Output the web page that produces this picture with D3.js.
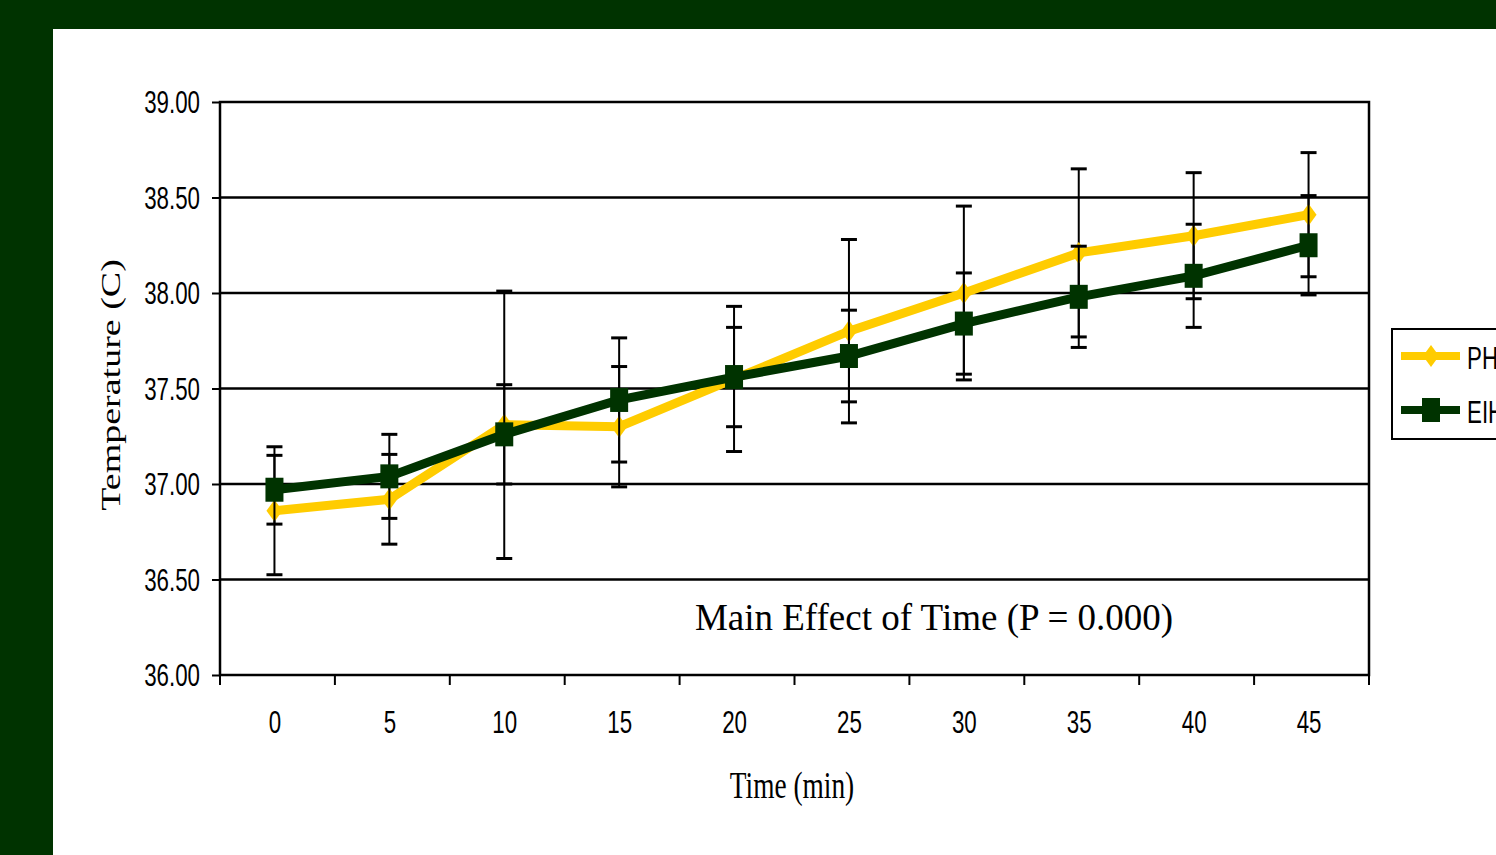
<!DOCTYPE html>
<html>
<head>
<meta charset="utf-8">
<script src="https://cdn.jsdelivr.net/npm/d3@7"></script>
<style>
  html, body { margin: 0; padding: 0; background: #003300; }
  svg { display: block; }
</style>
</head>
<body>
<div id="chart"></div>
<script>
// chart data
var times = [0, 5, 10, 15, 20, 25, 30, 35, 40, 45];
var phMean = [36.86, 36.92, 37.31, 37.30, 37.55, 37.80, 38.00, 38.21, 38.30, 38.41];
var phErr = [0.335, 0.235, 0.70, 0.315, 0.38, 0.48, 0.455, 0.44, 0.33, 0.325];
var eihMean = [36.97, 37.04, 37.26, 37.44, 37.56, 37.67, 37.84, 37.98, 38.09, 38.25];
var eihErr = [0.18, 0.22, 0.26, 0.325, 0.26, 0.24, 0.265, 0.265, 0.27, 0.26];
var yTicks = [36.00, 36.50, 37.00, 37.50, 38.00, 38.50, 39.00];
var seriesNames = ["PH", "EIH"];

var W = 1496, H = 855;
var SX = 0.72; // the picture is squeezed sideways, text too

var svg = d3.select("#chart")
	.append("svg")
	.attr("width", W)
	.attr("height", H);

// white panel on the dark green slide
svg.append("rect")
	.attr("x", 53).attr("y", 29)
	.attr("width", W - 53).attr("height", H - 29)
	.attr("fill", "#fff");

var plotLeft = 220, plotRight = 1369, plotTop = 102, plotBottom = 675;

var x = d3.scalePoint()
	.domain(times)
	.range([plotLeft - 3, plotRight - 3])
	.padding(0.5);

var y = d3.scaleLinear()
	.domain([36, 39])
	.range([plotBottom, plotTop]);

// y axis with gridlines
var yAxis = svg.append("g")
	.attr("transform", "translate(" + plotLeft + ",0)")
	.call(d3.axisLeft(y).tickValues(yTicks).tickSize(8).tickFormat(d3.format(".2f")));
yAxis.select(".domain").remove();
yAxis.selectAll(".tick line").attr("stroke", "#000").attr("stroke-width", 2);
yAxis.selectAll(".tick text")
	.attr("x", -20 / SX)
	.attr("dy", "0.35em")
	.attr("transform", "scale(" + SX + ",1)")
	.attr("font-family", "Liberation Sans, Arial, sans-serif")
	.attr("font-size", 31)
	.attr("fill", "#000");

svg.append("g").selectAll("line")
	.data(yTicks.filter(function(d) { return d > 36 && d < 39; }))
	.enter()
	.append("line")
	.attr("x1", plotLeft).attr("x2", plotRight)
	.attr("y1", function(d) { return y(d); })
	.attr("y2", function(d) { return y(d); })
	.attr("stroke", "#000")
	.attr("stroke-width", 2.5);

// plot frame
svg.append("rect")
	.attr("x", plotLeft).attr("y", plotTop)
	.attr("width", plotRight - plotLeft).attr("height", plotBottom - plotTop)
	.attr("fill", "none")
	.attr("stroke", "#000")
	.attr("stroke-width", 2.5);

// x axis: labels at the points, tick marks between categories
var step = x.step();
var xAxis = svg.append("g")
	.attr("transform", "translate(0," + plotBottom + ")")
	.call(d3.axisBottom(x).tickSize(0).tickPadding(0));
xAxis.select(".domain").remove();
xAxis.selectAll(".tick text")
	.attr("y", 58)
	.attr("dy", 0)
	.attr("transform", "scale(" + SX + ",1)")
	.attr("font-family", "Liberation Sans, Arial, sans-serif")
	.attr("font-size", 31)
	.attr("fill", "#000");

var bounds = d3.range(times.length + 1).map(function(i) { return plotLeft + i * step; });
svg.append("g").selectAll("line")
	.data(bounds)
	.enter()
	.append("line")
	.attr("x1", function(d) { return d; })
	.attr("x2", function(d) { return d; })
	.attr("y1", plotBottom).attr("y2", plotBottom + 10)
	.attr("stroke", "#000")
	.attr("stroke-width", 2);

// series
var ph = times.map(function(t, i) { return { t: t, v: phMean[i], e: phErr[i] }; });
var eih = times.map(function(t, i) { return { t: t, v: eihMean[i], e: eihErr[i] }; });

var line = d3.line()
	.x(function(d) { return x(d.t); })
	.y(function(d) { return y(d.v); });

function errorBars(data) {
	var g = svg.append("g").attr("stroke", "#000");
	g.selectAll(".stem")
		.data(data)
		.enter()
		.append("line")
		.attr("class", "stem")
		.attr("x1", function(d) { return x(d.t); })
		.attr("x2", function(d) { return x(d.t); })
		.attr("y1", function(d) { return y(d.v + d.e); })
		.attr("y2", function(d) { return y(d.v - d.e); })
		.attr("stroke-width", 2);
	g.selectAll(".cap")
		.data(data.flatMap(function(d) { return [{ t: d.t, v: d.v + d.e }, { t: d.t, v: d.v - d.e }]; }))
		.enter()
		.append("line")
		.attr("class", "cap")
		.attr("x1", function(d) { return x(d.t) - 8; })
		.attr("x2", function(d) { return x(d.t) + 8; })
		.attr("y1", function(d) { return y(d.v); })
		.attr("y2", function(d) { return y(d.v); })
		.attr("stroke-width", 3);
}

var diamond = "M0,-11L8,0L0,11L-8,0Z";
var square = "M-9,-12L9,-12L9,12L-9,12Z";

errorBars(ph);
svg.append("path")
	.datum(ph)
	.attr("d", line)
	.attr("fill", "none")
	.attr("stroke", "#ffcc00")
	.attr("stroke-width", 9);
svg.append("g").selectAll("path")
	.data(ph)
	.enter()
	.append("path")
	.attr("d", diamond)
	.attr("transform", function(d) { return "translate(" + x(d.t) + "," + y(d.v) + ")"; })
	.attr("fill", "#ffcc00");

errorBars(eih);
svg.append("path")
	.datum(eih)
	.attr("d", line)
	.attr("fill", "none")
	.attr("stroke", "#003300")
	.attr("stroke-width", 9);
svg.append("g").selectAll("path")
	.data(eih)
	.enter()
	.append("path")
	.attr("d", square)
	.attr("transform", function(d) { return "translate(" + x(d.t) + "," + y(d.v) + ")"; })
	.attr("fill", "#003300");

// axis titles
svg.append("text")
	.attr("transform", "translate(792,798) scale(" + SX + ",1)")
	.attr("text-anchor", "middle")
	.attr("font-family", "Liberation Serif, Times New Roman, serif")
	.attr("font-size", 38)
	.text("Time (min)");

svg.append("text")
	.attr("transform", "translate(120,385) rotate(-90) scale(1," + SX + ")")
	.attr("text-anchor", "middle")
	.attr("font-family", "Liberation Serif, Times New Roman, serif")
	.attr("font-size", 38)
	.text("Temperature (C)");

svg.append("text")
	.attr("x", 934)
	.attr("y", 630)
	.attr("text-anchor", "middle")
	.attr("font-family", "Liberation Serif, Times New Roman, serif")
	.attr("font-size", 37)
	.text("Main Effect of Time (P = 0.000)");

// legend, cut off by the right edge like the original
var legend = svg.append("g");
legend.append("rect")
	.attr("x", 1392).attr("y", 329)
	.attr("width", 140).attr("height", 110)
	.attr("fill", "#fff")
	.attr("stroke", "#000")
	.attr("stroke-width", 2);

var legendRows = [
	{ name: seriesNames[0], color: "#ffcc00", shape: diamond, y: 356 },
	{ name: seriesNames[1], color: "#003300", shape: square, y: 410 }
];
legendRows.forEach(function(r) {
	legend.append("line")
		.attr("x1", 1401).attr("x2", 1460)
		.attr("y1", r.y).attr("y2", r.y)
		.attr("stroke", r.color)
		.attr("stroke-width", 8);
	legend.append("path")
		.attr("d", r.shape)
		.attr("transform", "translate(1431," + r.y + ")")
		.attr("fill", r.color);
	legend.append("text")
		.attr("transform", "translate(1467," + (r.y + 13) + ") scale(" + SX + ",1)")
		.attr("font-family", "Liberation Sans, Arial, sans-serif")
		.attr("font-size", 31)
		.text(r.name);
});
</script>
</body>
</html>
